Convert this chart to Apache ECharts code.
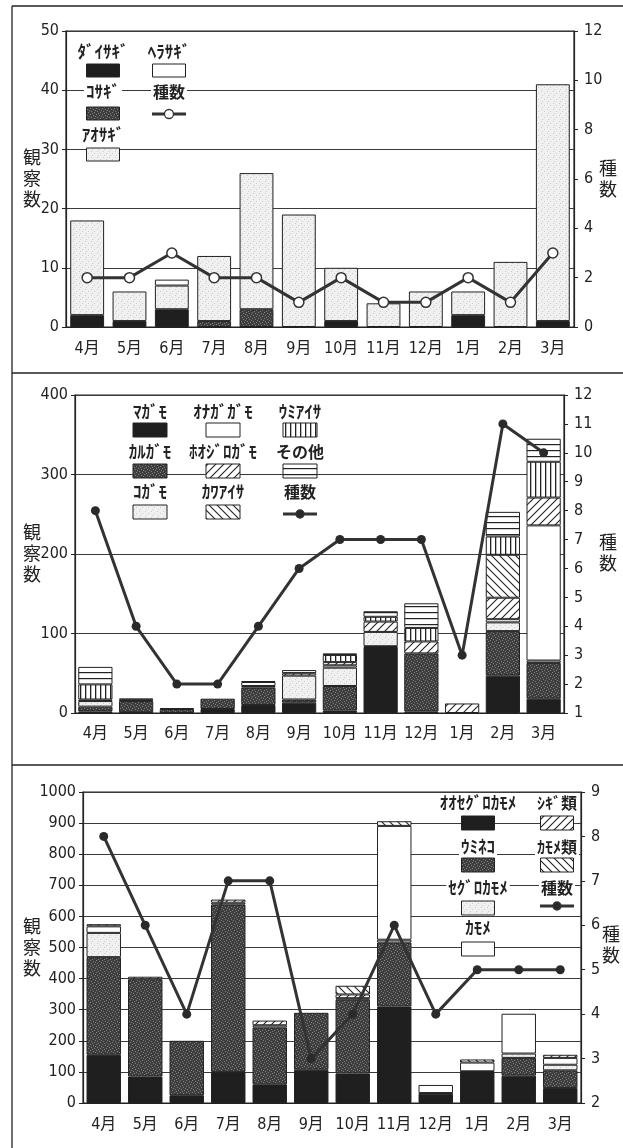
<!DOCTYPE html>
<html><head><meta charset="utf-8">
<script src="https://cdn.jsdelivr.net/npm/echarts@6/dist/echarts.min.js"></script>
<style>html,body{margin:0;padding:0;background:#fff}#c{width:623px;height:1148px}</style>
</head><body><div id="c"></div>
<script>
// ---------- DATA ----------
const months = ['4月','5月','6月','7月','8月','9月','10月','11月','12月','1月','2月','3月'];

// Panel 1 (サギ類)
const p1Daisagi  = [2,1,3,0,0,0,1,0,0,2,0,1];
const p1Kosagi   = [0,0,0,1,3,0,0,0,0,0,0,0];
const p1Aosagi   = [16,5,4,11,23,19,9,4,6,4,11,40];
const p1Herasagi = [0,0,1,0,0,0,0,0,0,0,0,0];
const p1Species  = [2,2,3,2,2,1,2,1,1,2,1,3];

// Panel 2 (カモ類)
const p2Magamo    = [2,1,0,5,10,13,3,83,2,0,47,18];
const p2Karugamo  = [6,14,5,13,22,4,31,1,73,0,56,45];
const p2Kogamo    = [7,2,1,0,2,30,23,18,0,0,11,3];
const p2Onagagamo = [0,0,0,0,5,0,3,0,0,0,4,170];
const p2Hojiro    = [2,0,0,0,0,3,4,13,15,12,27,35];
const p2Kawaaisa  = [0,0,0,0,0,0,0,0,0,0,54,0];
const p2Umiaisa   = [19,0,0,0,0,0,9,6,17,0,23,45];
const p2Other     = [22,1,0,0,1,4,2,7,31,0,31,29];
const p2Species   = [8,4,2,2,4,6,7,7,7,3,11,10];

// Panel 3 (カモメ類)
const p3Ooseguro  = [155,85,25,100,60,107,95,310,30,100,88,48];
const p3Umineko   = [314,313,175,538,183,183,237,206,2,2,57,57];
const p3Seguro    = [78,0,0,0,0,0,0,9,0,0,14,18];
const p3Kamome    = [21,0,0,6,7,0,5,366,26,28,128,22];
const p3Shigi     = [7,8,0,10,15,0,12,0,0,0,0,10];
const p3Kamomerui = [0,0,0,0,0,0,28,15,0,10,0,0];
const p3Species   = [8,6,4,7,7,3,4,6,4,5,5,5];

// ---------- FILLS ----------
function mk(w,h,draw){const c=document.createElement('canvas');c.width=w;c.height=h;const g=c.getContext('2d');draw(g,w,h);return {image:c,repeat:'repeat'};}
const F = {
  black: '#1f1f1f',
  white: '#ffffff',
  speck: mk(6,6,(g)=>{g.fillStyle='#3e3e3e';g.fillRect(0,0,6,6);g.fillStyle='#808080';[[0,0],[3,1],[1,3],[4,4],[2,5],[5,2]].forEach(p=>g.fillRect(p[0],p[1],1,1));}),
  light: mk(6,6,(g)=>{g.fillStyle='#f0f0f0';g.fillRect(0,0,6,6);g.fillStyle='#cdcdcd';[[1,1],[4,3],[2,5]].forEach(p=>g.fillRect(p[0],p[1],1,1));}),
  hatchF: mk(8,8,(g)=>{g.fillStyle='#fff';g.fillRect(0,0,8,8);g.strokeStyle='#222';g.lineWidth=1.1;g.beginPath();g.moveTo(0,8);g.lineTo(8,0);g.moveTo(-1,1);g.lineTo(1,-1);g.moveTo(7,9);g.lineTo(9,7);g.stroke();}),
  hatchB: mk(8,8,(g)=>{g.fillStyle='#fff';g.fillRect(0,0,8,8);g.strokeStyle='#222';g.lineWidth=1.1;g.beginPath();g.moveTo(0,0);g.lineTo(8,8);g.moveTo(-1,7);g.lineTo(1,9);g.moveTo(7,-1);g.lineTo(9,1);g.stroke();}),
  vert: mk(5,5,(g)=>{g.fillStyle='#fff';g.fillRect(0,0,5,5);g.fillStyle='#222';g.fillRect(0,0,1.3,5);}),
  horiz: mk(4,6,(g)=>{g.fillStyle='#fff';g.fillRect(0,0,4,6);g.fillStyle='#222';g.fillRect(0,0,4,1.2);})
};

const NUMF = "'Liberation Sans Narrow','DejaVu Sans Condensed','Noto Sans CJK JP',sans-serif";
const JPF = "'Noto Sans CJK JP',sans-serif";
const INK = '#222';

// ---------- AXES ----------
const grids = [
  {left:66, right:49, top:31, height:296},
  {left:75, right:59, top:395, height:318},
  {left:83, right:42, top:792, height:311}
].map(g=>Object.assign({show:true, borderColor:INK, borderWidth:1.2, backgroundColor:'transparent'}, g));

const xMargins=[14,13,14];
const xAxes = [0,1,2].map(i=>({
  type:'category', gridIndex:i, data:months,
  axisLine:{lineStyle:{color:INK,width:1.2}}, axisTick:{show:false},
  axisLabel:{interval:0, fontFamily:NUMF, fontSize:16, color:INK, margin:xMargins[i]}
}));
const leftSpec=[[0,50,10],[0,400,100],[0,1000,100]];
const rightSpec=[[0,12,2],[1,12,1],[2,9,1]];
const yAxes=[];
[0,1,2].forEach(i=>{
  yAxes.push({type:'value', gridIndex:i, position:'left', min:leftSpec[i][0], max:leftSpec[i][1], interval:leftSpec[i][2],
    axisLine:{show:true,lineStyle:{color:INK,width:1.2}}, axisTick:{show:true,length:4,lineStyle:{color:INK}},
    splitLine:{show:true,lineStyle:{color:'#3a3a3a',width:1.1}},
    axisLabel:{fontFamily:NUMF,fontSize:16,color:INK,margin:7,formatter:v=>String(v)}});
  yAxes.push({type:'value', gridIndex:i, position:'right', min:rightSpec[i][0], max:rightSpec[i][1], interval:rightSpec[i][2],
    axisLine:{show:true,lineStyle:{color:INK,width:1.2}}, axisTick:{show:true,length:4,lineStyle:{color:INK}},
    splitLine:{show:false},
    axisLabel:{fontFamily:NUMF,fontSize:16,color:INK,margin:10,formatter:v=>String(v)}});
});

// ---------- SERIES ----------
const series=[];
function bars(panel, name, data, fill, gap){
  series.push({type:'bar', name, xAxisIndex:panel, yAxisIndex:panel*2, stack:'s'+panel,
    data:data.map(v=>v===0?null:v), barCategoryGap:gap,
    itemStyle:{color:fill, borderColor:INK, borderWidth:1}, emphasis:{disabled:true}, z:2});
}
function line(panel, data, open){
  series.push({type:'line', name:'種数', xAxisIndex:panel, yAxisIndex:panel*2+1, data,
    symbol:'circle', symbolSize: open?10:9,
    lineStyle:{color:'#333',width:3},
    itemStyle: open?{color:'#fff',borderColor:'#333',borderWidth:1.5}:{color:'#2a2a2a'},
    z:5, animation:false});
}
bars(0,'ダイサギ',p1Daisagi,F.black,'20%');
bars(0,'コサギ',p1Kosagi,F.speck,'20%');
bars(0,'アオサギ',p1Aosagi,F.light,'20%');
bars(0,'ヘラサギ',p1Herasagi,F.white,'20%');
line(0,p1Species,true);

bars(1,'マガモ',p2Magamo,F.black,'16%');
bars(1,'カルガモ',p2Karugamo,F.speck,'16%');
bars(1,'コガモ',p2Kogamo,F.light,'16%');
bars(1,'オナガガモ',p2Onagagamo,F.white,'16%');
bars(1,'ホオジロガモ',p2Hojiro,F.hatchF,'16%');
bars(1,'カワアイサ',p2Kawaaisa,F.hatchB,'16%');
bars(1,'ウミアイサ',p2Umiaisa,F.vert,'16%');
bars(1,'その他',p2Other,F.horiz,'16%');
line(1,p2Species,false);

bars(2,'オオセグロカモメ',p3Ooseguro,F.black,'17%');
bars(2,'ウミネコ',p3Umineko,F.speck,'17%');
bars(2,'セグロカモメ',p3Seguro,F.light,'17%');
bars(2,'カモメ',p3Kamome,F.white,'17%');
bars(2,'シギ類',p3Shigi,F.hatchF,'17%');
bars(2,'カモメ類',p3Kamomerui,F.hatchB,'17%');
line(2,p3Species,false);

// ---------- GRAPHICS (frame, legends, axis titles) ----------
const G=[];
G.push({type:'line',shape:{x1:12,y1:6,x2:623,y2:6},style:{stroke:INK,lineWidth:1.3},z:50});
G.push({type:'line',shape:{x1:12,y1:373,x2:623,y2:373},style:{stroke:INK,lineWidth:1.3},z:50});
G.push({type:'line',shape:{x1:12,y1:765,x2:623,y2:765},style:{stroke:INK,lineWidth:1.3},z:50});
G.push({type:'line',shape:{x1:12,y1:6,x2:12,y2:1148},style:{stroke:INK,lineWidth:1.3},z:50});

function vtext(txt,x,y){
  G.push({type:'text',x,y,z:50,style:{text:txt,fontFamily:JPF,fontSize:18,lineHeight:21,fill:INK,textAlign:'center',textVerticalAlign:'middle'}});
}
vtext('観\n察\n数',32,178); vtext('種\n数',608,179);
vtext('観\n察\n数',32,553); vtext('種\n数',608,553);
vtext('観\n察\n数',32,947); vtext('種\n数',611,945);

function label(txt,cx,cy,fs){
  G.push({type:'text',x:cx,y:cy,z:60,style:{text:txt,fontFamily:JPF,fontSize:fs||17,fontWeight:'bold',fill:INK,textAlign:'center',textVerticalAlign:'middle',backgroundColor:'#fff',padding:[0,2]}});
}
function box(fill,cx,y,w,h){
  G.push({type:'rect',z:60,shape:{x:cx-w/2,y,width:w,height:h},style:{fill,stroke:INK,lineWidth:1}});
}
function lineSym(cx,cy,open){
  G.push({type:'line',z:60,shape:{x1:cx-17,y1:cy,x2:cx+17,y2:cy},style:{stroke:'#333',lineWidth:3}});
  G.push({type:'circle',z:61,shape:{cx,cy,r:open?4.5:4},style:{fill:open?'#fff':'#2a2a2a',stroke:'#333',lineWidth:1.3}});
}
// panel 1 legend
label('ﾀﾞｲｻｷﾞ',103,52); box(F.black,103,64,33,13);
label('ﾍﾗｻｷﾞ',169,52); box(F.white,169,64,33,13);
label('ｺｻｷﾞ',103,92); box(F.speck,103,107,33,13);
label('種数',169,92,16); lineSym(169,114,true);
label('ｱｵｻｷﾞ',103,135); box(F.light,103,148,33,13);
// panel 2 legend
const c2=[150,223,300];
label('ﾏｶﾞﾓ',c2[0],412); box(F.black,c2[0],423,34,14);
label('ｵﾅｶﾞｶﾞﾓ',c2[1],412); box(F.white,c2[1],423,34,14);
label('ｳﾐｱｲｻ',c2[2],412); box(F.vert,c2[2],423,34,14);
label('ｶﾙｶﾞﾓ',c2[0],452); box(F.speck,c2[0],464,34,14);
label('ﾎｵｼﾞﾛｶﾞﾓ',c2[1],452); box(F.hatchF,c2[1],464,34,14);
label('その他',c2[2],452,16); box(F.horiz,c2[2],464,34,14);
label('ｺｶﾞﾓ',c2[0],492); box(F.light,c2[0],505,34,14);
label('ｶﾜｱｲｻ',c2[1],492); box(F.hatchB,c2[1],505,34,14);
label('種数',c2[2],492,16); lineSym(c2[2],514,false);
// panel 3 legend
const c3=[478,557];
label('ｵｵｾｸﾞﾛｶﾓﾒ',c3[0],803); box(F.black,c3[0],816,33,14);
label('ｼｷﾞ類',c3[1],803,16); box(F.hatchF,c3[1],816,33,14);
label('ｳﾐﾈｺ',c3[0],847); box(F.speck,c3[0],858,33,14);
label('ｶﾓﾒ類',c3[1],847,16); box(F.hatchB,c3[1],858,33,14);
label('ｾｸﾞﾛｶﾓﾒ',c3[0],888); box(F.light,c3[0],901,33,14);
label('種数',c3[1],888,16); lineSym(c3[1],906,false);
label('ｶﾓﾒ',c3[0],928); box(F.white,c3[0],942,33,14);

const chart=echarts.init(document.getElementById('c'),null,{renderer:'canvas'});
chart.setOption({
  animation:false, backgroundColor:'#fff',
  grid:grids, xAxis:xAxes, yAxis:yAxes, series, graphic:G,
  tooltip:{show:false}
});
</script></body></html>
